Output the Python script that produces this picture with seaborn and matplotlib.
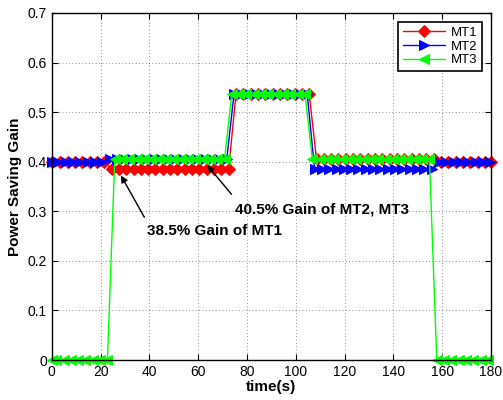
import numpy as np
import pandas as pd
import seaborn as sns
import matplotlib.pyplot as plt

# sample times (s): one sample every 3 s, each series slightly shifted
t_base = np.arange(0, 181, 3)
shift_mt1 = 0.5
shift_mt2 = -0.3
shift_mt3 = -1.2

# power saving gain per sample (step levels)
gain_mt1 = [0.4] * 8 + [0.385] * 17 + [0.537] * 11 + [0.405] * 17 + [0.4] * 8
gain_mt2 = [0.4] * 8 + [0.405] * 17 + [0.537] * 11 + [0.385] * 17 + [0.4] * 8
gain_mt3 = [0.0] * 9 + [0.405] * 16 + [0.537] * 11 + [0.405] * 17 + [0.0] * 8

x_ticks = list(range(0, 181, 20))
y_ticks = [0, 0.1, 0.2, 0.3, 0.4, 0.5, 0.6, 0.7]
y_tick_labels = ['0', '0.1', '0.2', '0.3', '0.4', '0.5', '0.6', '0.7']

sns.set_style('ticks')
plt.rcParams['font.family'] = ['Liberation Sans', 'DejaVu Sans']
plt.rcParams['text.color'] = 'black'
plt.rcParams['axes.labelcolor'] = 'black'
plt.rcParams['xtick.color'] = 'black'
plt.rcParams['ytick.color'] = 'black'

fig = plt.figure(figsize=(5.03, 4.0), dpi=100)
ax = fig.add_axes([0.103, 0.1, 0.873, 0.8675])

series = [
    ('MT1', shift_mt1, gain_mt1, 'red', 'D', 6),
    ('MT2', shift_mt2, gain_mt2, 'blue', '>', 7.5),
    ('MT3', shift_mt3, gain_mt3, '#00ff00', '<', 7.5),
]
for name, shift, gain, color, marker, msize in series:
    t = np.clip(t_base + shift, 0, 180)
    t[0] = 0
    df = pd.DataFrame({'time': t, 'gain': gain})
    sns.lineplot(data=df, x='time', y='gain', ax=ax, color=color, marker=marker,
                 markersize=msize, markeredgecolor=color, linewidth=1.0,
                 label=name, sort=False, clip_on=False, zorder=3)

ax.set_xlim(0, 180)
ax.set_ylim(0, 0.7)
ax.set_xticks(x_ticks)
ax.set_yticks(y_ticks)
ax.set_yticklabels(y_tick_labels)
ax.tick_params(direction='in', top=True, right=True, labelsize=10, length=4, width=0.8)
ax.grid(True, linestyle=(0, (1, 3)), color='black', linewidth=0.6, alpha=0.6)
for sp in ax.spines.values():
    sp.set_visible(True)
    sp.set_color('black')
    sp.set_linewidth(1.0)
    sp.set_zorder(4)

ax.set_xlabel('time(s)', fontsize=11, fontweight='bold', labelpad=1)
ax.set_ylabel('Power Saving Gain', fontsize=11, fontweight='bold', labelpad=4)

leg = ax.legend(loc='upper right', fontsize=9.5, frameon=True, fancybox=False,
                edgecolor='black', framealpha=1, borderaxespad=0.7, numpoints=1,
                handlelength=3.2, labelspacing=0.1, borderpad=0.35, handletextpad=0.4)
leg.get_frame().set_linewidth(1.2)
leg.set_zorder(5)

# annotations
ax.annotate('', xy=(63, 0.397), xytext=(74.4, 0.33),
            arrowprops=dict(arrowstyle='-|>', color='black', lw=1.0))
ax.text(75, 0.304, '40.5% Gain of MT2, MT3', fontsize=11, fontweight='bold',
        ha='left', va='center')
ax.annotate('', xy=(27.8, 0.377), xytext=(38.5, 0.283),
            arrowprops=dict(arrowstyle='-|>', color='black', lw=1.0))
ax.text(39.2, 0.261, '38.5% Gain of MT1', fontsize=11, fontweight='bold',
        ha='left', va='center')

fig.savefig('out.png', dpi=100)
